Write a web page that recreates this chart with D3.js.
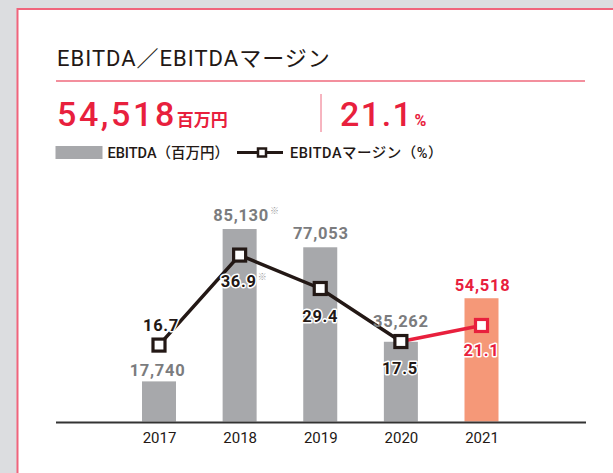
<!DOCTYPE html>
<html>
<head>
<meta charset="utf-8">
<script src="https://cdn.jsdelivr.net/npm/d3@7"></script>
<style>
    html, body { margin: 0; padding: 0; background: #dcdde0; }
    svg { display: block; }
    text { font-family: Roboto, "Noto Sans CJK JP", sans-serif; }
</style>
</head>
<body>
<svg id="chart" width="613" height="473"></svg>
<script>
var years = ['2017', '2018', '2019', '2020', '2021'];
var ebitda = [17740, 85130, 77053, 35262, 54518];
var margin = [16.7, 36.9, 29.4, 17.5, 21.1];
var ebitdaLabels = ['17,740', '85,130', '77,053', '35,262', '54,518'];
var marginLabels = ['16.7', '36.9', '29.4', '17.5', '21.1'];
var notes = ['', '※', '', '', ''];

var dark = '#231815', red = '#e8203d', gray = '#a7a8ab', labelGray = '#7b7c7e', salmon = '#f59878';

var svg = d3.select('#chart');

// panel
svg.append('rect')
    .attr('x', 17.5).attr('y', 9)
    .attr('width', 700).attr('height', 600)
    .attr('fill', '#fff')
    .attr('stroke', '#f0647c')
    .attr('stroke-width', 2);

// header
svg.append('text')
    .attr('x', 57).attr('y', 66)
    .attr('font-size', 22)
    .attr('fill', dark)
    .attr('letter-spacing', 1)
    .text('EBITDA／EBITDAマージン');

svg.append('line')
    .attr('x1', 56).attr('x2', 585)
    .attr('y1', 81).attr('y2', 81)
    .attr('stroke', red).attr('stroke-width', 1.2);

var big = svg.append('text')
    .attr('x', 57).attr('y', 125.5)
    .attr('fill', red);
big.append('tspan').attr('font-size', 34).attr('font-weight', 500).attr('letter-spacing', 2.6).text(ebitdaLabels[4]);
big.append('tspan').attr('dx', 0).attr('font-size', 17).attr('font-weight', 700).text('百万円');

svg.append('line')
    .attr('x1', 321).attr('x2', 321)
    .attr('y1', 94).attr('y2', 132)
    .attr('stroke', '#ee6b80').attr('stroke-width', 1);

var pct = svg.append('text')
    .attr('x', 340).attr('y', 125.5)
    .attr('fill', red);
pct.append('tspan').attr('font-size', 34).attr('font-weight', 500).attr('letter-spacing', 1.5).text(marginLabels[4]);
pct.append('tspan').attr('dx', 1).attr('font-size', 16).attr('font-weight', 700).text('%');

// legend
svg.append('rect')
    .attr('x', 55.5).attr('y', 146)
    .attr('width', 47).attr('height', 13)
    .attr('fill', gray);
svg.append('text')
    .attr('x', 107.5).attr('y', 157.5)
    .attr('font-size', 14.5).attr('font-weight', 500)
    .attr('fill', dark)
    .text('EBITDA（百万円）');
svg.append('line')
    .attr('x1', 237).attr('x2', 283)
    .attr('y1', 152.5).attr('y2', 152.5)
    .attr('stroke', dark).attr('stroke-width', 3);
svg.append('rect')
    .attr('x', 258).attr('y', 148.5)
    .attr('width', 8).attr('height', 8)
    .attr('fill', '#fff').attr('stroke', dark).attr('stroke-width', 2.5);
svg.append('text')
    .attr('x', 290).attr('y', 157.5)
    .attr('font-size', 14.5).attr('font-weight', 500)
    .attr('letter-spacing', 0.5)
    .attr('fill', dark)
    .text('EBITDAマージン（%）');

// scales
var x = d3.scalePoint().domain(years).range([159, 481.5]);
var yBar = d3.scaleLinear().domain([0, 100000]).range([421.5, 195.4]);
var yLine = d3.scaleLinear().domain([0, 50]).range([419.5, 196.7]);
var barW = 34;

var rows = years.map(function (yr, i) {
    return { year: yr, value: ebitda[i], margin: margin[i], vLabel: ebitdaLabels[i], mLabel: marginLabels[i], note: notes[i], last: i === years.length - 1 };
});

svg.selectAll('rect.bar')
    .data(rows)
    .enter().append('rect')
    .classed('bar', true)
    .attr('x', function (d) { return x(d.year) - barW / 2; })
    .attr('y', function (d) { return yBar(d.value); })
    .attr('width', barW)
    .attr('height', function (d) { return yBar(0) - yBar(d.value); })
    .attr('fill', function (d) { return d.last ? salmon : gray; });

// axis
svg.append('line')
    .attr('x1', 56).attr('x2', 586)
    .attr('y1', 422.5).attr('y2', 422.5)
    .attr('stroke', '#333').attr('stroke-width', 2);

var axis = svg.append('g')
    .attr('transform', 'translate(0,422.5)')
    .call(d3.axisBottom(x).tickSize(0).tickPadding(10));
axis.select('.domain').remove();
axis.selectAll('text')
    .attr('font-family', 'Roboto, sans-serif')
    .attr('font-size', 15)
    .attr('fill', dark)
    .attr('dy', '0.71em');

// line
var line = d3.line()
    .x(function (d) { return x(d.year); })
    .y(function (d) { return yLine(d.margin); });

svg.append('path')
    .datum(rows.slice(0, 4))
    .attr('d', line)
    .attr('fill', 'none')
    .attr('stroke', dark)
    .attr('stroke-width', 3.5);
svg.append('path')
    .datum(rows.slice(3))
    .attr('d', line)
    .attr('fill', 'none')
    .attr('stroke', red)
    .attr('stroke-width', 3.5);

svg.selectAll('rect.marker')
    .data(rows)
    .enter().append('rect')
    .classed('marker', true)
    .attr('x', function (d) { return x(d.year) - 6; })
    .attr('y', function (d) { return yLine(d.margin) - 6; })
    .attr('width', 12).attr('height', 12)
    .attr('fill', '#fff')
    .attr('stroke', function (d) { return d.last ? red : dark; })
    .attr('stroke-width', 3.2);

// label baselines and small horizontal nudges
var barLabelY = [376, 220.5, 239, 326.5, 290.5];
var marginLabelY = [331, 287, 322, 374, 356];
var barLabelDx = [-1.5, 1.5, 0.5, 0, 1];
var marginLabelDx = [2, -1, 0, -1, 0];

function addLabel(d, i, txt, yy, dx, fill, halo) {
    var t = svg.append('text')
        .attr('x', x(d.year) + dx)
        .attr('y', yy)
        .attr('text-anchor', 'middle')
        .attr('font-size', 16.5)
        .attr('font-weight', 700)
        .attr('letter-spacing', 0.7)
        .attr('fill', fill);
    if (halo) {
        t.attr('stroke', '#fff').attr('stroke-width', 3).attr('paint-order', 'stroke').attr('stroke-linejoin', 'round');
    }
    t.text(txt);
    if (d.note) {
        var bb = t.node().getBBox();
        svg.append('text')
            .attr('x', bb.x + bb.width + 1)
            .attr('y', yy - 7)
            .attr('font-size', 9)
            .attr('fill', '#9a9b9d')
            .text(d.note);
    }
}

rows.forEach(function (d, i) {
    addLabel(d, i, d.vLabel, barLabelY[i], barLabelDx[i], d.last ? red : labelGray, false);
    addLabel(d, i, d.mLabel, marginLabelY[i], marginLabelDx[i], d.last ? red : dark, true);
});
</script>
</body>
</html>
